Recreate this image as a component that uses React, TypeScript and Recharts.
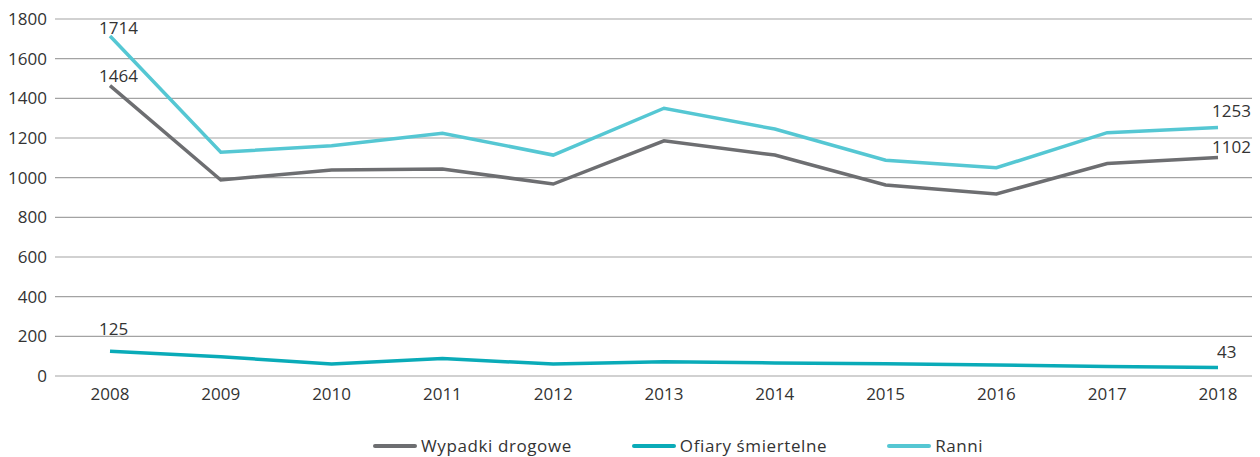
import { LineChart, Line, XAxis, YAxis, CartesianGrid, Legend } from 'recharts';

const years = ['2008', '2009', '2010', '2011', '2012', '2013', '2014', '2015', '2016', '2017', '2018'];
const wypadki = [1464, 988, 1039, 1044, 968, 1186, 1114, 963, 918, 1071, 1102];
const ofiary = [125, 97, 60, 88, 60, 72, 66, 62, 55, 48, 43];
const ranni = [1714, 1128, 1161, 1224, 1114, 1350, 1245, 1088, 1050, 1227, 1253];
const yTicks = [0, 200, 400, 600, 800, 1000, 1200, 1400, 1600, 1800];

const data = years.map((year, i) => ({
  year,
  wypadki: wypadki[i],
  ofiary: ofiary[i],
  ranni: ranni[i],
}));

const FONT = '"Open Sans", sans-serif';
const TEXT = '#333333';

const series = [
  { key: 'wypadki', name: 'Wypadki drogowe', color: '#6d6e71', first: [-11, -4], last: [-6, -4] },
  { key: 'ofiary', name: 'Ofiary śmiertelne', color: '#0aabb8', first: [-11, -16], last: [-1, -9] },
  { key: 'ranni', name: 'Ranni', color: '#55c7d3', first: [-11, -2], last: [-6, -10] },
];

// only the first and last point get a value label
const endLabel = (offs: { first: number[]; last: number[] }) => (props: any) => {
  const { x, y, index, value } = props;
  if (index !== 0 && index !== years.length - 1) return null;
  const [dx, dy] = index === 0 ? offs.first : offs.last;
  return (
    <text key={`l-${index}`} x={x + dx} y={y + dy} fontSize={17} fontFamily={FONT} fill={TEXT} textAnchor="start">
      {value}
    </text>
  );
};

const LegendRow = () => (
  <div style={{ display: 'flex', alignItems: 'center', fontFamily: FONT, fontSize: 17, letterSpacing: 0.6, color: TEXT, paddingLeft: 373 }}>
    {series.map((s) => (
      <div key={s.key} style={{ display: 'flex', alignItems: 'center', marginRight: 60 }}>
        <span style={{ display: 'inline-block', width: 44, height: 4, borderRadius: 2, background: s.color, marginRight: 4 }} />
        <span>{s.name}</span>
      </div>
    ))}
  </div>
);

export default function App() {
  return (
    <div style={{ position: 'relative', marginLeft: -8, marginTop: -8, width: 1260, height: 457, overflow: 'hidden', background: '#fff' }}>
      <LineChart width={1274} height={457} data={data} margin={{ top: 19, right: 0, left: 0, bottom: 51 }}>
        <CartesianGrid vertical={false} stroke="#a3a3a3" strokeWidth={1.2} />
        <XAxis
          dataKey="year"
          axisLine={false}
          tickLine={false}
          tickMargin={6}
          height={30}
          interval={0}
          padding={{ left: 55, right: 56 }}
          tick={{ fontSize: 17, fontFamily: FONT, fill: TEXT }}
        />
        <YAxis
          width={55}
          domain={[0, 1800]}
          ticks={yTicks}
          axisLine={false}
          tickLine={false}
          tick={{ fontSize: 17, fontFamily: FONT, fill: TEXT }}
        />
        <Legend
          verticalAlign="middle"
          content={() => <LegendRow />}
          wrapperStyle={{ top: 434, left: 0, width: 1260 }}
        />
        {series.map((s) => (
          <Line
            key={s.key}
            type="linear"
            dataKey={s.key}
            name={s.name}
            stroke={s.color}
            strokeWidth={3.5}
            dot={false}
            activeDot={false}
            isAnimationActive={false}
            label={endLabel(s)}
          />
        ))}
      </LineChart>
    </div>
  );
}
